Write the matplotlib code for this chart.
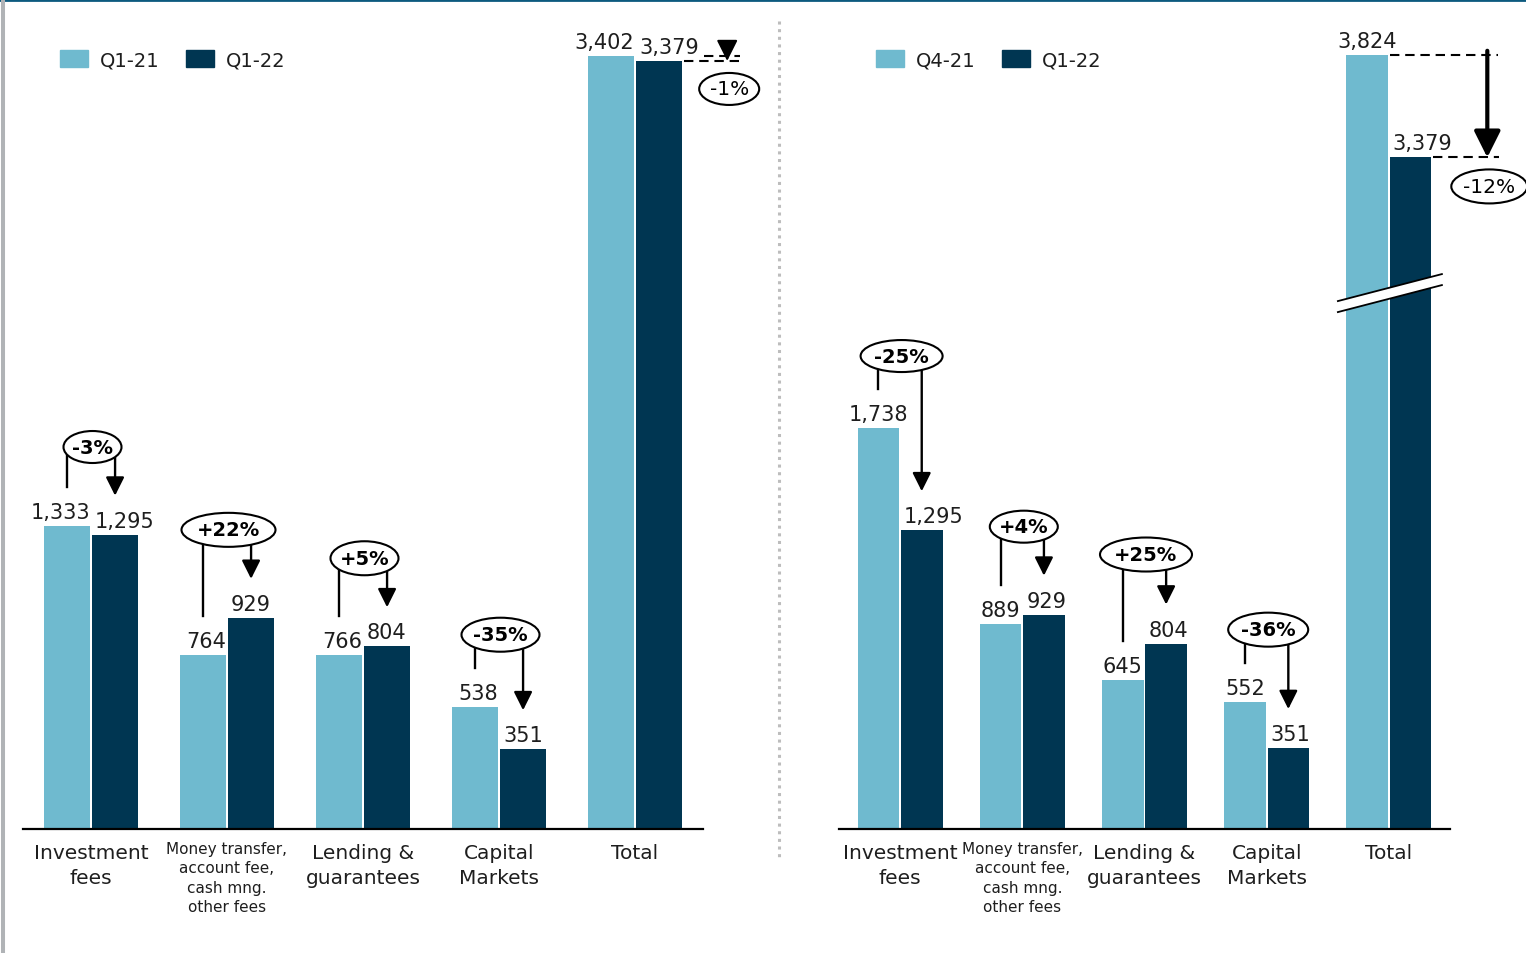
import numpy as np
import matplotlib
matplotlib.use("Agg")
import matplotlib.pyplot as plt
from matplotlib.patches import Ellipse, Patch, Polygon
from matplotlib.lines import Line2D

categories = ["Investment\nfees",
              "Money transfer,\naccount fee,\ncash mng.\nother fees",
              "Lending &\nguarantees",
              "Capital\nMarkets",
              "Total"]
small_label = [False, True, False, False, False]

left_names = ["Q1-21", "Q1-22"]
left_prev = [1333, 764, 766, 538, 3402]
left_curr = [1295, 929, 804, 351, 3379]
left_change = ["-3%", "+22%", "+5%", "-35%", "-1%"]

right_names = ["Q4-21", "Q1-22"]
right_prev = [1738, 889, 645, 552, 3824]
right_curr = [1295, 929, 804, 351, 3379]
right_change = ["-25%", "+4%", "+25%", "-36%", "-12%"]

# the right-hand totals sit on a broken axis, shifted down by this much
right_cut = [0, 0, 0, 0, 468]
left_cut = [0, 0, 0, 0, 0]

LIGHT = "#6fbacf"
DARK = "#003652"
TXT = "#1e1e1e"
W, H = 1526, 954

fig = plt.figure(figsize=(W / 100, H / 100), dpi=100)

BAR_W = 0.34
OFF = 0.177


def px_units(ax):
    bb = ax.get_position()
    x0, x1 = ax.get_xlim()
    y0, y1 = ax.get_ylim()
    return (x1 - x0) / (bb.width * W), (y1 - y0) / (bb.height * H)


def panel(left_px, width_px, ymax, names, prev, curr, change, cut,
          rise, ell_size, light_ha, total_style):
    ax = fig.add_axes([left_px / W, 124 / H, width_px / W, 830 / H])
    ax.set_xlim(-0.5, 4.5)
    ax.set_ylim(0, ymax)
    ux, uy = px_units(ax)
    x = np.arange(len(categories))
    prev_h = np.array(prev) - np.array(cut)
    curr_h = np.array(curr) - np.array(cut)

    ax.bar(x - OFF, prev_h, BAR_W, color=LIGHT, zorder=2)
    ax.bar(x + OFF, curr_h, BAR_W, color=DARK, zorder=2)

    for s in ["top", "right", "left"]:
        ax.spines[s].set_visible(False)
    ax.spines["bottom"].set_linewidth(1.6)
    ax.spines["bottom"].set_zorder(3)
    ax.set_xticks([])
    ax.set_yticks([])

    # value labels
    for i in range(len(x)):
        if light_ha == "right":
            lx = x[i] - OFF + BAR_W / 2
        else:
            lx = x[i] - OFF
        ax.text(lx, prev_h[i] + 8 * uy, f"{prev[i]:,}", ha=light_ha,
                va="baseline", fontsize=15, color=TXT, zorder=5)
        ax.text(x[i] + OFF - BAR_W / 2 + 3 * ux, curr_h[i] + 8 * uy,
                f"{curr[i]:,}", ha="left", va="baseline", fontsize=15,
                color=TXT, zorder=5)

    # category labels
    for i, lab in enumerate(categories):
        if small_label[i]:
            ax.text(x[i], -12 * uy, lab, ha="center", va="top", fontsize=11,
                    linespacing=1.36, color=TXT, clip_on=False)
        else:
            ax.text(x[i], -14 * uy, lab, ha="center", va="top", fontsize=14.5,
                    linespacing=1.42, color=TXT, clip_on=False)

    # change bubbles
    for i in range(4):
        xl, xd = x[i] - OFF, x[i] + OFF
        ey = max(prev_h[i], curr_h[i]) + rise[i] * uy
        ex = x[i] + 1.5 * ux
        ax.plot([xl, xl], [prev_h[i] + 39 * uy, ey], color="k", lw=1.7,
                clip_on=False, zorder=3)
        ax.annotate("", xy=(xd, curr_h[i] + 39 * uy), xytext=(xd, ey),
                    arrowprops=dict(arrowstyle="-|>", color="k", lw=1.7,
                                    mutation_scale=28, shrinkA=0, shrinkB=0),
                    zorder=3)
        ew, eh = ell_size[i]
        ax.add_patch(Ellipse((ex, ey), ew * ux, eh * uy, facecolor="white",
                             edgecolor="k", lw=1.5, zorder=4, clip_on=False))
        ax.text(ex, ey, change[i], ha="center", va="center", fontsize=14,
                fontweight="bold", color="k", zorder=5)

    # total comparison
    t = 4
    l_right = x[t] - OFF + BAR_W / 2
    d_right = x[t] + OFF + BAR_W / 2
    dash = dict(color="k", lw=1.5, linestyle=(0, (4.5, 2.8)), clip_on=False, zorder=3)
    if total_style == "small":
        ax.plot([d_right + 22 * ux, d_right + 58 * ux], [prev_h[t], prev_h[t]], **dash)
        ax.plot([d_right + 2 * ux, d_right + 58 * ux], [curr_h[t], curr_h[t]], **dash)
        ax.annotate("", xy=(d_right + 45 * ux, curr_h[t]),
                    xytext=(d_right + 45 * ux, curr_h[t] + 18 * uy),
                    arrowprops=dict(arrowstyle="-|>", color="k", lw=1.5,
                                    mutation_scale=32, shrinkA=0, shrinkB=0),
                    zorder=4, annotation_clip=False)
        ex, ey, ew, eh = d_right + 47 * ux, curr_h[t] - 28 * uy, 60, 32
    else:
        ax.plot([l_right + 2 * ux, l_right + 110 * ux], [prev_h[t], prev_h[t]], **dash)
        ax.plot([d_right + 2 * ux, d_right + 68 * ux], [curr_h[t], curr_h[t]], **dash)
        ax.annotate("", xy=(d_right + 56 * ux, curr_h[t]),
                    xytext=(d_right + 56 * ux, prev_h[t] + 4 * uy),
                    arrowprops=dict(arrowstyle="-|>", color="k", lw=3,
                                    mutation_scale=40, shrinkA=0, shrinkB=0),
                    zorder=4, annotation_clip=False)
        ex, ey, ew, eh = d_right + 58 * ux, curr_h[t] - 29 * uy, 76, 34

        # axis break across the total bars
        yc = 2323
        xa, xb = x[t] - 51 * ux, x[t] + 53 * ux
        ya, yb = yc - 13.5 * uy, yc + 13.5 * uy
        g = 5.5 * uy
        ax.add_patch(Polygon([(xa, ya - g), (xb, yb - g), (xb, yb + g), (xa, ya + g)],
                             closed=True, facecolor="white", edgecolor="none",
                             zorder=3, clip_on=False))
        for s in (-g, g):
            ax.plot([xa, xb], [ya + s, yb + s], color="k", lw=1.3, zorder=4,
                    clip_on=False)

    ax.add_patch(Ellipse((ex, ey), ew * ux, eh * uy, facecolor="white",
                         edgecolor="k", lw=1.5, zorder=4, clip_on=False))
    ax.text(ex, ey, change[t], ha="center", va="center", fontsize=14.5,
            color="k", zorder=5)

    ax.legend(handles=[Patch(color=LIGHT, label=names[0]),
                       Patch(color=DARK, label=names[1])],
              loc="upper left", bbox_to_anchor=((left_px + 37) / W, 1 - 51 / H),
              bbox_transform=fig.transFigure, ncol=2, frameon=False,
              fontsize=14, handlelength=1.45, handleheight=1.0,
              handletextpad=0.6, columnspacing=1.35, borderpad=0,
              borderaxespad=0, labelcolor=TXT)
    return ax


panel(23, 680, 830 / 0.2273, left_names, left_prev, left_curr, left_change,
      left_cut, [79, 88, 88, 72], [(58, 32), (94, 34), (68, 34), (78, 34)],
      "right", "small")
panel(839, 611, 830 / 0.2307, right_names, right_prev, right_curr, right_change,
      right_cut, [72, 88, 89, 72], [(82, 32), (68, 32), (92, 34), (80, 34)],
      "center", "big")

# frame decorations
fig.add_artist(Line2D([0, 1], [1 - 1.3 / H] * 2, transform=fig.transFigure,
                      color="#0c5a7e", lw=2))
fig.add_artist(Line2D([2.5 / W] * 2, [0, 1], transform=fig.transFigure,
                      color="#b0b3b6", lw=2.9))
fig.add_artist(Line2D([779 / W] * 2, [1 - 22 / H, 1 - 860 / H],
                      transform=fig.transFigure, color="#bdbdbd", lw=2.2,
                      linestyle=(0, (1, 1.5))))

fig.savefig("out.png", dpi=100)
